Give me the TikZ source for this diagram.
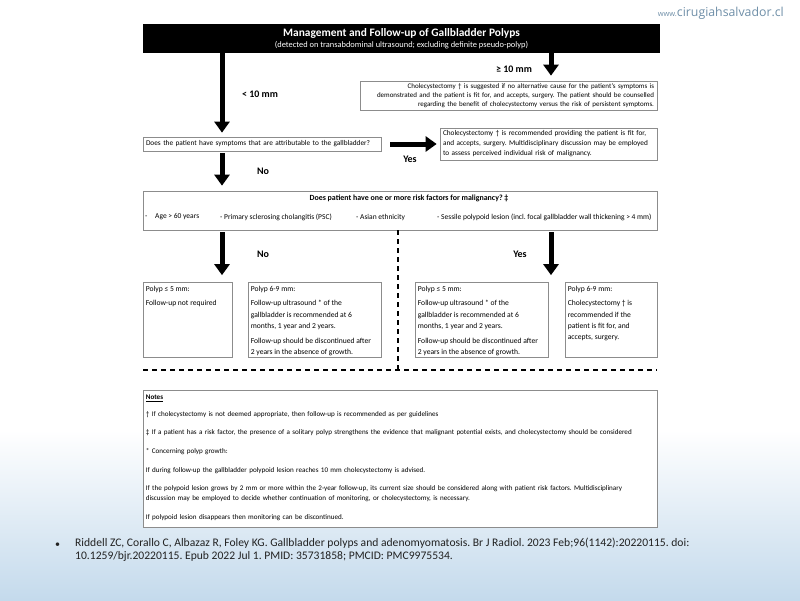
\documentclass[tikz,border=0pt]{standalone}
\usepackage{fontspec}
\setmainfont{Carlito}
\newfontfamily\wmfont{Open Sans}
\usetikzlibrary{arrows.meta}
\definecolor{boxgray}{HTML}{8C8C8C}
\definecolor{wmblue}{HTML}{6F8FA8}
\definecolor{bgblue}{RGB}{196,218,236}
\definecolor{cittext}{HTML}{222222}
\frenchspacing
\begin{document}
\frenchspacing
\begin{tikzpicture}[x=1pt,y=-1pt,
  box/.style={draw=boxgray, fill=white, line width=0.7pt, inner xsep=3pt, inner ysep=0pt},
  smalltext/.style={font=\fontsize{7.5}{9}\selectfont, inner sep=0pt},
  bigarrow/.style={line width=5pt, -{Triangle[width=15pt,length=11pt]}},
  lbl/.style={font=\fontsize{10}{12}\selectfont\bfseries, inner sep=0pt},
  dashline/.style={line width=1.3pt, dash pattern=on 5pt off 4pt},
  cell/.style={draw=boxgray, fill=white, line width=0.7pt, inner sep=0pt, minimum height=75pt},
  celltext/.style={font=\fontsize{7.6}{11.3}\selectfont, inner sep=0pt, anchor=north west, align=left}
]
\useasboundingbox (0,0) rectangle (800,600);
% background
\fill[white] (0,0) rectangle (800,430);
\shade[top color=white, bottom color=bgblue] (0,430) rectangle (800,600);

% watermark
\node[font=\wmfont\fontsize{12.3}{14}\selectfont, text=wmblue, anchor=east, inner sep=0pt] (wm) at (784,13)
  {{\fontsize{7.5}{9}\selectfont www.}cirugiahsalvador.cl};

% title
\node[fill=black, minimum width=517pt, minimum height=29pt, inner sep=0pt, text=white, align=center] (title) at (401.5,38.5)
  {{\fontsize{11.4}{12}\selectfont\bfseries Management and Follow-up of Gallbladder Polyps}\\[-1.5pt]
   {\fontsize{8.4}{9}\selectfont (detected on transabdominal ultrasound; excluding definite pseudo-polyp)}};

\coordinate (cl) at (222,0);
\coordinate (cr) at (551,0);

% >= 10 mm box
\node[box, font=\fontsize{7}{9}\selectfont, minimum height=29pt, text width=291pt, align=right] (b1) at (508.5,95.5)
  {Cholecystectomy † is suggested if no alternative cause for the patient’s symptoms is\\
   demonstrated and the patient is fit for, and accepts, surgery. The patient should be counselled\\
   regarding the benefit of cholecystectomy versus the risk of persistent symptoms.};

% question box
\node[box, font=\fontsize{7.3}{9}\selectfont, minimum height=14pt, text width=232pt, align=left] (q) at (262,144)
  {Does the patient have symptoms that are attributable to the gallbladder?};

% symptomatic box
\node[box, font=\fontsize{7.3}{10}\selectfont, minimum height=32pt, text width=211pt, align=left] (b2) at (548.5,144)
  {Cholecystectomy † is recommended providing the patient is fit for,\\
   and accepts, surgery. Multidisciplinary discussion may be employed\\
   to assess perceived individual risk of malignancy.};

% risk factor box
\node[box, minimum width=514pt, minimum height=39pt] (r) at (400,210.5) {};
\node[smalltext, font=\fontsize{7.9}{9}\selectfont\bfseries] (rt) at (409,198)
  {Does patient have one or more risk factors for malignancy? ‡};
\node[smalltext, anchor=west] (r1) at (145,217) {-};
\node[smalltext, anchor=west] (r2) at (155,217) {Age > 60 years};
\node[smalltext, anchor=west] (r3) at (220,217) {- Primary sclerosing cholangitis (PSC)};
\node[smalltext, anchor=west] (r4) at (356,217) {- Asian ethnicity};
\node[smalltext, anchor=west] (r5) at (437,217) {- Sessile polypoid lesion (incl. focal gallbladder wall thickening > 4 mm)};

% outcome cells
\node[cell, minimum width=89pt] (ca) at (187.5,320) {};
\node[cell, minimum width=133pt] (cb) at (314.5,320) {};
\node[cell, minimum width=133pt] (cc) at (481.5,320) {};
\node[cell, minimum width=92pt] (cd) at (611,320) {};

\node[celltext] (ta) at ([shift={(3,3.5)}]ca.north west)
  {Polyp ≤ 5 mm:\\[3.5pt]Follow-up not required};
\node[celltext] (tb) at ([shift={(3,3.5)}]cb.north west)
  {Polyp 6-9 mm:\\[3.5pt]Follow-up ultrasound * of the\\gallbladder is recommended at 6\\months, 1 year and 2 years.\\[3.5pt]Follow-up should be discontinued after\\2 years in the absence of growth.};
\node[celltext] (tc) at ([shift={(3,3.5)}]cc.north west)
  {Polyp ≤ 5 mm:\\[3.5pt]Follow-up ultrasound * of the\\gallbladder is recommended at 6\\months, 1 year and 2 years.\\[3.5pt]Follow-up should be discontinued after\\2 years in the absence of growth.};
\node[celltext] (td) at ([shift={(3,3.5)}]cd.north west)
  {Polyp 6-9 mm:\\[3.5pt]Cholecystectomy † is\\recommended if the\\patient is fit for, and\\accepts, surgery.};

% notes box
\node[box, minimum width=514pt, minimum height=137pt] (n) at (400,458.5) {};
\node[anchor=north west, inner sep=0pt, text width=507pt, align=left,
      font=\fontsize{7.1}{10}\selectfont] (nt) at ([shift={(3,5)}]n.north west)
  {\setlength{\parskip}{8.7pt}%
   \textbf{\underline{Notes}}\par\vspace{-2pt}
   † If cholecystectomy is not deemed appropriate, then follow-up is recommended as per guidelines\par
   ‡ If a patient has a risk factor, the presence of a solitary polyp strengthens the evidence that malignant potential exists, and cholecystectomy should be considered\par
   * Concerning polyp growth:\par
   If during follow-up the gallbladder polypoid lesion reaches 10 mm cholecystectomy is advised.\par
   If the polypoid lesion grows by 2 mm or more within the 2-year follow-up, its current size should be considered along with patient risk factors. Multidisciplinary\\discussion may be employed to decide whether continuation of monitoring, or cholecystectomy, is necessary.\par
   If polypoid lesion disappears then monitoring can be discontinued.};

% arrows
\draw[bigarrow, shorten >=4pt] (title.south -| cl) -- (q.north -| cl);
\draw[bigarrow, shorten >=5pt] (title.south -| cr) -- (b1.north -| cr);
\draw[bigarrow, shorten <=9pt, shorten >=3pt] (q.east) -- (b2.west);
\draw[bigarrow, shorten <=2pt, shorten >=5pt] (q.south -| cl) -- (r.north -| cl);
\draw[bigarrow, shorten <=2pt, shorten >=7pt] (r.south -| cl) -- (ca.north -| cl);
\draw[bigarrow, shorten <=2pt, shorten >=7pt] (r.south -| cr) -- (cc.north -| cr);

% labels
\node[lbl] (l1) at (260,94) {< 10 mm};
\node[lbl] (l2) at (514,69) {≥ 10 mm};
\node[lbl] (l3) at (410,159) {Yes};
\node[lbl] (l4) at (263,171) {No};
\node[lbl] (l5) at (263,254) {No};
\node[lbl] (l6) at (520,254) {Yes};

% dashed separators
\coordinate (dm) at (398,0);
\coordinate (hl) at (143,370);
\coordinate (hr) at (657,370);
\draw[dashline] (r.south -| dm) -- (hl -| dm);
\draw[dashline, line width=1.6pt] (hl) -- (hr);

% citation
\node[anchor=west, inner sep=0pt, font=\fontsize{10}{12}\selectfont, text=cittext] (bul) at (55,545) {•};
\node[anchor=north west, inner sep=0pt, align=left, font=\fontsize{11.6}{13}\selectfont, text=cittext] (cit) at (75,537.5)
  {Riddell ZC, Corallo C, Albazaz R, Foley KG. Gallbladder polyps and adenomyomatosis. Br J Radiol. 2023 Feb;96(1142):20220115. doi:\\
   10.1259/bjr.20220115. Epub 2022 Jul 1. PMID: 35731858; PMCID: PMC9975534.};
\end{tikzpicture}
\end{document}
